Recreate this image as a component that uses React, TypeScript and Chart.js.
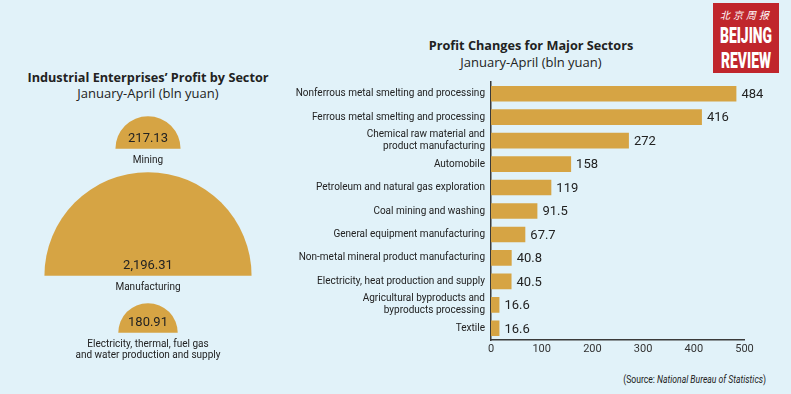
import React, { useEffect, useRef } from "react";
import { Chart, registerables } from "chart.js";

Chart.register(...registerables);

// ---------- data ----------
const sectorNames: string[][] = [
  ["Mining"],
  ["Manufacturing"],
  ["Electricity, thermal, fuel gas", "and water production and supply"],
];
const sectorProfits: number[] = [217.13, 2196.31, 180.91];

const barCategories: (string | string[])[] = [
  "Nonferrous metal smelting and processing",
  "Ferrous metal smelting and processing",
  ["Chemical raw material and", "product manufacturing"],
  "Automobile",
  "Petroleum and natural gas exploration",
  "Coal mining and washing",
  "General equipment manufacturing",
  "Non-metal mineral product manufacturing",
  "Electricity, heat production and supply",
  ["Agricultural byproducts and", "byproducts processing"],
  "Textile",
];
const barValues: number[] = [484, 416, 272, 158, 119, 91.5, 67.7, 40.8, 40.5, 16.6, 16.6];
const xTickValues: number[] = [0, 100, 200, 300, 400, 500];

// ---------- style ----------
const BG = "#E1F2F9";
const GOLD = "#D6A444";
const TEXT = "#222222";
const FONT = "Roboto, 'Open Sans', sans-serif";

const DISC_CX = 148;
const DISC_BASES = [149, 276, 333];
const DISC_SCALE = 2.21; // px of radius per sqrt(bln yuan)

function HalfDisc({ value, baseY, names }: { value: number; baseY: number; names: string[] }) {
  const ref = useRef<HTMLCanvasElement>(null);
  const R = DISC_SCALE * Math.sqrt(value);
  const w = Math.ceil(2 * R) + 6;
  const h = Math.ceil(R) + 6;
  const top = Math.round(baseY - h / 2 - R / 2);
  const left = Math.round(DISC_CX - w / 2);
  useEffect(() => {
    if (!ref.current) return;
    const chart = new Chart(ref.current, {
      type: "pie",
      data: {
        labels: [names.join(" ")],
        datasets: [{ data: [value], backgroundColor: GOLD, borderWidth: 0 }],
      },
      options: {
        responsive: false,
        animation: false,
        events: [],
        circumference: 180,
        rotation: -90,
        radius: R,
        layout: { padding: 0 },
        plugins: { legend: { display: false }, tooltip: { enabled: false } },
      } as any,
    });
    return () => chart.destroy();
  }, []);
  const valueText = value.toLocaleString("en-US", { minimumFractionDigits: 2, maximumFractionDigits: 2 });
  return (
    <>
      <canvas
        ref={ref}
        width={w}
        height={h}
        style={{ position: "absolute", left, top, width: w, height: h }}
      />
      <div
        style={{
          position: "absolute",
          left: DISC_CX - 100,
          width: 200,
          top: baseY - 11 - 8,
          height: 16,
          lineHeight: "16px",
          textAlign: "center",
          fontFamily: FONT,
          fontSize: 13,
          color: TEXT,
        }}
      >
        {valueText}
      </div>
      <div
        style={{
          position: "absolute",
          left: DISC_CX - 100,
          width: 200,
          top: baseY + 10.5 - 5.5,
          lineHeight: "11px",
          textAlign: "center",
          fontFamily: FONT,
          fontSize: 10,
          color: TEXT,
        }}
      >
        {names.map((n, i) => (
          <div key={i}>{n}</div>
        ))}
      </div>
    </>
  );
}

const valueLabelPlugin = {
  id: "valueLabels",
  afterDatasetsDraw(chart: any) {
    const ctx = chart.ctx;
    const meta = chart.getDatasetMeta(0);
    const data = chart.data.datasets[0].data;
    ctx.save();
    ctx.font = `13px ${FONT}`;
    ctx.fillStyle = TEXT;
    ctx.textBaseline = "middle";
    ctx.textAlign = "left";
    meta.data.forEach((bar: any, i: number) => {
      ctx.fillText(String(data[i]), bar.x + 5, bar.y + 1);
    });
    ctx.restore();
  },
};

function BarChart() {
  const ref = useRef<HTMLCanvasElement>(null);
  useEffect(() => {
    if (!ref.current) return;
    const chart = new Chart(ref.current, {
      type: "bar",
      data: {
        labels: barCategories,
        datasets: [
          {
            data: barValues,
            backgroundColor: GOLD,
            borderWidth: 0,
            barPercentage: 0.9,
            categoryPercentage: 0.74,
          },
        ],
      },
      options: {
        indexAxis: "y",
        responsive: false,
        animation: false,
        events: [],
        layout: { padding: { top: 8.5, right: 46.5, bottom: 0, left: 0 } },
        plugins: { legend: { display: false }, tooltip: { enabled: false } },
        scales: {
          x: {
            min: 0,
            max: 500,
            afterFit: (s: any) => {
              s.height = 22;
            },
            afterBuildTicks: (s: any) => {
              s.ticks = xTickValues.map((v) => ({ value: v }));
            },
            grid: { display: false, drawTicks: false },
            border: { display: true, color: "#3a3a3a", width: 1.5 },
            ticks: {
              padding: 2.5,
              color: "#333",
              autoSkip: false,
              font: { family: FONT, size: 11 },
            },
          },
          y: {
            afterFit: (s: any) => {
              s.width = 211;
            },
            grid: { display: false, drawTicks: false },
            border: { display: true, color: "#3a3a3a", width: 1.5 },
            ticks: {
              padding: 6,
              color: TEXT,
              autoSkip: false,
              font: { family: FONT, size: 10, lineHeight: 1.2 },
            },
          },
        },
      } as any,
      plugins: [valueLabelPlugin],
    });
    return () => chart.destroy();
  }, []);
  return (
    <canvas
      ref={ref}
      width={511}
      height={292}
      style={{ position: "absolute", left: 280, top: 70, width: 511, height: 292 }}
    />
  );
}

function Title({ cx, y, text, bold }: { cx: number; y: number; text: string; bold?: boolean }) {
  return (
    <div
      style={{
        position: "absolute",
        left: cx - 200,
        width: 400,
        top: y - 9,
        height: 18,
        lineHeight: "18px",
        textAlign: "center",
        fontFamily: "'Open Sans', sans-serif",
        fontWeight: bold ? 700 : 400,
        fontSize: bold ? 12.7 : 13,
        color: TEXT,
        whiteSpace: "nowrap",
      }}
    >
      {text}
    </div>
  );
}

export default function App() {
  useEffect(() => {
    document.body.style.margin = "0";
  }, []);
  return (
    <div
      style={{
        position: "absolute",
        left: 0,
        top: 0,
        width: 791,
        height: 394,
        background: BG,
        overflow: "hidden",
      }}
    >
      <Title cx={148} y={76.5} text="Industrial Enterprises’ Profit by Sector" bold />
      <Title cx={148} y={93} text="January-April (bln yuan)" />
      {sectorProfits.map((v, i) => (
        <HalfDisc key={i} value={v} baseY={DISC_BASES[i]} names={sectorNames[i]} />
      ))}

      <Title cx={531} y={45} text="Profit Changes for Major Sectors" bold />
      <Title cx={531} y={62} text="January-April (bln yuan)" />
      <BarChart />

      <div
        style={{
          position: "absolute",
          right: 25,
          top: 373,
          height: 14,
          lineHeight: "14px",
          fontFamily: FONT,
          fontSize: 10,
          color: TEXT,
          whiteSpace: "nowrap",
          transform: "scaleX(0.86)",
          transformOrigin: "right center",
        }}
      >
        (Source: <i>National Bureau of Statistics</i>)
      </div>

      <div
        style={{
          position: "absolute",
          left: 713,
          top: 3,
          width: 66,
          height: 70,
          background: "#C0262C",
          color: "#fff",
          textAlign: "center",
          overflow: "hidden",
        }}
      >
        <div
          style={{
            position: "absolute",
            left: 0,
            top: 6,
            width: 66,
            fontFamily: "'Noto Sans CJK SC', sans-serif",
            fontSize: 10,
            lineHeight: "12px",
            letterSpacing: 3,
            fontStyle: "italic",
          }}
        >
          北京周报
        </div>
        <div
          style={{
            position: "absolute",
            left: -20,
            top: 21,
            width: 106,
            fontFamily: FONT,
            fontWeight: 900,
            fontSize: 22,
            lineHeight: "24px",
            transform: "scaleX(0.63)",
            transformOrigin: "center",
          }}
        >
          BEIJING
        </div>
        <div
          style={{
            position: "absolute",
            left: -20,
            top: 46,
            width: 106,
            fontFamily: FONT,
            fontWeight: 900,
            fontSize: 22,
            lineHeight: "24px",
            transform: "scaleX(0.63)",
            transformOrigin: "center",
          }}
        >
          REVIEW
        </div>
      </div>
    </div>
  );
}
